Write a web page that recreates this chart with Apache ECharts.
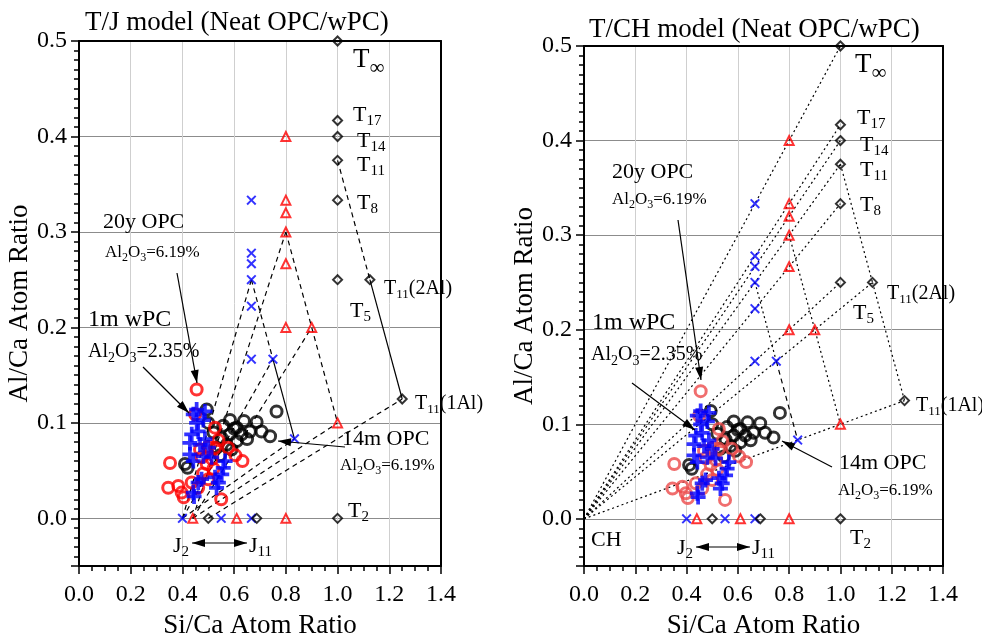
<!DOCTYPE html>
<html>
<head>
<meta charset="utf-8">
<script src="https://cdn.jsdelivr.net/npm/echarts@6/dist/echarts.min.js"></script>
<style>
html,body{margin:0;padding:0;background:#fff}
#main{width:982px;height:644px}
</style>
</head>
<body>
<div id="main"></div>
<script>
// measured points, Si/Ca (x) and Al/Ca (y)
const opc14mSi = [0.764, 0.584, 0.638, 0.687, 0.558, 0.61, 0.661, 0.706, 0.739, 0.629, 0.584, 0.552, 0.61, 0.571, 0.532, 0.494, 0.41, 0.42, 0.65, 0.59, 0.545, 0.52, 0.5, 0.6];
const opc14mAl = [0.112, 0.103, 0.102, 0.101, 0.097, 0.095, 0.091, 0.091, 0.086, 0.088, 0.088, 0.084, 0.081, 0.077, 0.074, 0.114, 0.057, 0.053, 0.083, 0.072, 0.066, 0.09, 0.1, 0.094];
const opc20ySi = [0.455, 0.449, 0.526, 0.539, 0.577, 0.605, 0.632, 0.526, 0.5, 0.468, 0.474, 0.494, 0.52, 0.5, 0.461, 0.436, 0.352, 0.345, 0.384, 0.397, 0.405, 0.55, 0.515, 0.48];
const opc20yAl = [0.135, 0.109, 0.095, 0.082, 0.074, 0.066, 0.06, 0.074, 0.075, 0.072, 0.064, 0.057, 0.052, 0.041, 0.032, 0.0375, 0.058, 0.032, 0.034, 0.027, 0.022, 0.02, 0.062, 0.047];
const wpc1mSi = [0.455, 0.487, 0.442, 0.481, 0.461, 0.436, 0.487, 0.429, 0.468, 0.5, 0.429, 0.481, 0.513, 0.442, 0.565, 0.558, 0.552, 0.474, 0.461, 0.539, 0.532, 0.442, 0.445, 0.526, 0.455];
const wpc1mAl = [0.114, 0.112, 0.109, 0.103, 0.091, 0.088, 0.083, 0.079, 0.077, 0.074, 0.067, 0.065, 0.064, 0.06, 0.06, 0.053, 0.046, 0.041, 0.0375, 0.0375, 0.032, 0.027, 0.023, 0.043, 0.1];

// model compositions
const tSi = [1.0, 1.0, 1.0, 1.0, 1.0, 1.125, 1.0, 1.25, 1.0, 0.5, 0.6875];
const tAl = [0.5, 0.4167, 0.4, 0.375, 0.3333, 0.25, 0.25, 0.125, 0, 0, 0];
const redMixSi = [0.8, 0.8, 0.8, 0.8, 0.8, 0.8, 0.9, 1.0, 0.44, 0.61, 0.8];
const redMixAl = [0.4, 0.3333, 0.32, 0.3, 0.2667, 0.2, 0.2, 0.1, 0, 0, 0];
const blueMixSi = [0.6667, 0.6667, 0.6667, 0.6667, 0.6667, 0.6667, 0.75, 0.8333, 0.4, 0.55, 0.6667];
const blueMixAl = [0.3333, 0.2778, 0.2667, 0.25, 0.2222, 0.1667, 0.1667, 0.0833, 0, 0, 0];

// tie lines
const tjDashed = [
  [[0.4, 0], [0.6667, 0.25]], [[0.4, 0], [0.75, 0.1667]], [[0.4, 0], [0.8333, 0.0833]],
  [[0.44, 0], [0.8, 0.3]], [[0.44, 0], [0.9, 0.2]], [[0.44, 0], [1.0, 0.1]],
  [[0.5, 0], [1.25, 0.125]],
  [[0.6667, 0.25], [0.75, 0.1667]], [[0.8, 0.3], [1.0, 0.1]], [[1.0, 0.375], [1.125, 0.25]]
];
const tjSolid = [[[0.75, 0.1667], [0.8333, 0.0833]], [[1.125, 0.25], [1.25, 0.125]]];
const tchDotted = [
  [[0, 0], [1.0, 0.5]], [[0, 0], [1.0, 0.4167]], [[0, 0], [1.0, 0.4]], [[0, 0], [1.0, 0.375]],
  [[0, 0], [1.0, 0.3333]], [[0, 0], [1.0, 0.25]], [[0, 0], [1.125, 0.25]], [[0, 0], [1.25, 0.125]],
  [[1.0, 0.375], [1.125, 0.25]], [[1.125, 0.25], [1.25, 0.125]],
  [[0.8, 0.3], [1.0, 0.1]], [[0.6667, 0.25], [0.75, 0.1667]]
];
const tchDashed = [[[0.75, 0.1667], [0.8333, 0.0833]]];

const FF = 'Liberation Serif';
const xTicks = ['0.0', '0.2', '0.4', '0.6', '0.8', '1.0', '1.2', '1.4'];

const chart = echarts.init(document.getElementById('main'));

function pts(xs, ys) { return xs.map((x, i) => [x, ys[i]]); }

function xAx(g) {
  return {
    type: 'value', gridIndex: g, min: 0, max: 1.4, interval: 0.2,
    name: 'Si/Ca Atom Ratio', nameLocation: 'middle', nameGap: 42,
    nameTextStyle: {fontFamily: FF, fontSize: 27, color: '#000'},
    axisLine: {onZero: false, lineStyle: {color: '#000', width: 2}},
    axisTick: {length: 8, lineStyle: {color: '#000', width: 1.5}},
    minorTick: {show: true, splitNumber: 4, length: 5, lineStyle: {color: '#000', width: 1.5}},
    axisLabel: {fontFamily: FF, fontSize: 24, color: '#000', margin: 17,
      formatter: v => xTicks[Math.round(v / 0.2)]},
    splitLine: {show: true, lineStyle: {color: '#cfcfcf', width: 1}}
  };
}
function yAx(g) {
  return {
    type: 'value', gridIndex: g, min: -0.05, max: 0.5, splitNumber: 5,
    name: 'Al/Ca Atom Ratio', nameLocation: 'middle', nameGap: 44,
    nameTextStyle: {fontFamily: FF, fontSize: 27, color: '#000'},
    axisLine: {onZero: false, lineStyle: {color: '#000', width: 2}},
    axisTick: {length: 8, lineStyle: {color: '#000', width: 1.5}},
    minorTick: {show: true, splitNumber: 10, length: 5, lineStyle: {color: '#000', width: 1.5}},
    axisLabel: {fontFamily: FF, fontSize: 24, color: '#000', margin: 12, showMinLabel: false,
      formatter: v => v.toFixed(1)},
    splitLine: {show: true, lineStyle: {color: '#8c8c8c', width: 1}}
  };
}
function frameX(g) {
  return {type: 'value', gridIndex: g, position: 'top', min: 0, max: 1.4,
    axisLine: {onZero: false, lineStyle: {color: '#000', width: 2}},
    axisTick: {show: false}, axisLabel: {show: false}, splitLine: {show: false}};
}
function frameY(g) {
  return {type: 'value', gridIndex: g, position: 'right', min: -0.05, max: 0.5,
    axisLine: {onZero: false, lineStyle: {color: '#000', width: 2}},
    axisTick: {show: false}, axisLabel: {show: false}, splitLine: {show: false}};
}

const PLUS = 'path://M4.5,0H7.5V4.5H12V7.5H7.5V12H4.5V7.5H0V4.5H4.5Z';
const CROSS = 'path://M0,1.4L1.4,0L5,3.6L8.6,0L10,1.4L6.4,5L10,8.6L8.6,10L5,6.4L1.4,10L0,8.6L3.6,5Z';
const NONE = 'rgba(0,0,0,0)';

function lineSeries(g, segs, type, width, z) {
  return {type: 'lines', coordinateSystem: 'cartesian2d', xAxisIndex: g, yAxisIndex: g,
    polyline: false, silent: true, z: z,
    lineStyle: {color: '#000', width: width, type: type, opacity: 1},
    data: segs.map(s => ({coords: s}))};
}
function panelSeries(g, red) {
  return [
    lineSeries(g, g === 0 ? tjDashed : tchDotted, g === 0 ? [5, 4] : [2, 3], 1.2, 2),
    lineSeries(g, g === 0 ? tjSolid : tchDashed, g === 0 ? 'solid' : [5, 4], 1.2, 2),
    {type: 'scatter', xAxisIndex: g, yAxisIndex: g, silent: true, z: 3, data: pts(opc14mSi, opc14mAl),
      symbol: 'circle', symbolSize: 11, itemStyle: {color: NONE, borderColor: '#000', borderWidth: 3}},
    {type: 'scatter', xAxisIndex: g, yAxisIndex: g, silent: true, z: 4, data: pts(opc20ySi, opc20yAl),
      symbol: 'circle', symbolSize: 11, itemStyle: {color: NONE, borderColor: red, borderWidth: 3}},
    {type: 'scatter', xAxisIndex: g, yAxisIndex: g, silent: true, z: 5, data: pts(wpc1mSi, wpc1mAl),
      symbol: PLUS, symbolSize: 15, itemStyle: {color: '#0000ff'}},
    {type: 'scatter', xAxisIndex: g, yAxisIndex: g, silent: true, z: 6, data: pts(blueMixSi, blueMixAl),
      symbol: CROSS, symbolSize: 10, itemStyle: {color: '#0000ff'}},
    {type: 'scatter', xAxisIndex: g, yAxisIndex: g, silent: true, z: 6, data: pts(redMixSi, redMixAl),
      symbol: 'triangle', symbolSize: 9, itemStyle: {color: NONE, borderColor: '#ff0000', borderWidth: 2}},
    {type: 'scatter', xAxisIndex: g, yAxisIndex: g, silent: true, z: 6, data: pts(tSi, tAl),
      symbol: 'diamond', symbolSize: 9, itemStyle: {color: NONE, borderColor: '#000', borderWidth: 2}}
  ];
}

// text helpers
function rtext(x, y, str, F, S) {
  return {type: 'text', x: x, y: y, z: 100, silent: true, style: {
    text: str, align: 'left', verticalAlign: 'top',
    rich: {
      m: {fontFamily: FF, fontSize: F, lineHeight: F, verticalAlign: 'top', fill: '#000'},
      s: {fontFamily: FF, fontSize: S, lineHeight: S, verticalAlign: 'top', fill: '#000',
        padding: [Math.round(F * 0.45), 0, 0, 0]}
    }}};
}
function tLab(x, y, sub, tail) {
  if (tail) return rtext(x, y, '{m|T}{s|' + sub + '}{m|' + tail + '}', 20, 13);
  return rtext(x, y, '{m|T}{s|' + sub + '}', 22, 15);
}
function oxide(x, y, val, F, S) {
  return rtext(x, y, '{m|Al}{s|2}{m|O}{s|3}{m|=' + val + '}', F, S);
}
function plain(x, y, str, F) {
  return {type: 'text', x: x, y: y, z: 100, silent: true,
    style: {text: str, fontFamily: FF, fontSize: F, fill: '#000', align: 'left', verticalAlign: 'top'}};
}
function head(x1, y1, x2, y2) {
  const a = Math.atan2(y2 - y1, x2 - x1), len = 13, hw = 4;
  const bx = x2 - len * Math.cos(a), by = y2 - len * Math.sin(a);
  const px = -Math.sin(a) * hw, py = Math.cos(a) * hw;
  return {type: 'polygon', z: 100, silent: true,
    shape: {points: [[x2, y2], [bx + px, by + py], [bx - px, by - py]]}, style: {fill: '#000'}};
}
function arrow(x1, y1, x2, y2, both) {
  const out = [{type: 'line', z: 100, silent: true, shape: {x1: x1, y1: y1, x2: x2, y2: y2},
    style: {stroke: '#000', lineWidth: 1.2}}, head(x1, y1, x2, y2)];
  if (both) out.push(head(x2, y2, x1, y1));
  return out;
}

const graphics = [
  // left panel labels
  rtext(353, 46, '{m|T}{s|∞}', 27, 21),
  tLab(353, 104, '17'), tLab(357, 130, '14'), tLab(357, 154, '11'), tLab(357, 192, '8'),
  tLab(384, 279, '11', '(2Al)'), tLab(350, 300, '5'), tLab(415, 394, '11', '(1Al)'), tLab(348, 500, '2'),
  plain(103, 211, '20y OPC', 22), oxide(105, 244, '6.19%', 17, 12),
  plain(88, 308, '1m wPC', 24), oxide(88, 342, '2.35%', 20, 14),
  plain(342, 428, '14m OPC', 22), oxide(340, 457, '6.19%', 17, 12),
  rtext(173, 535, '{m|J}{s|2}', 22, 15), rtext(249, 535, '{m|J}{s|11}', 22, 15),
  ...arrow(177, 273, 197, 383), ...arrow(143, 367, 189, 413), ...arrow(345, 447, 278, 441),
  ...arrow(192, 543, 247, 543, true),
  // right panel labels
  rtext(855, 51, '{m|T}{s|∞}', 27, 21),
  tLab(857, 107, '17'), tLab(860, 134, '14'), tLab(860, 159, '11'), tLab(860, 194, '8'),
  tLab(887, 284, '11', '(2Al)'), tLab(853, 302, '5'), tLab(916, 396, '11', '(1Al)'), tLab(850, 527, '2'),
  plain(612, 161, '20y OPC', 22), oxide(612, 191, '6.19%', 17, 12),
  plain(592, 311, '1m wPC', 24), oxide(591, 345, '2.35%', 20, 14),
  plain(839, 452, '14m OPC', 22), oxide(838, 482, '6.19%', 17, 12),
  plain(591, 529, 'CH', 22),
  rtext(677, 537, '{m|J}{s|2}', 22, 15), rtext(752, 537, '{m|J}{s|11}', 22, 15),
  ...arrow(678, 220, 701, 380), ...arrow(632, 383, 695, 430), ...arrow(832, 467, 782, 441),
  ...arrow(696, 547, 750, 547, true)
];

chart.setOption({
  backgroundColor: '#fff',
  animation: false,
  title: [
    {text: 'T/J model (Neat OPC/wPC)', left: 80, top: 4,
      textStyle: {fontFamily: FF, fontSize: 27, fontWeight: 'normal', color: '#000'}},
    {text: 'T/CH model (Neat OPC/wPC)', left: 584, top: 11,
      textStyle: {fontFamily: FF, fontSize: 27, fontWeight: 'normal', color: '#000'}}
  ],
  grid: [
    {left: 79, top: 41, width: 362, height: 528},
    {left: 584, top: 46, width: 359, height: 523}
  ],
  xAxis: [xAx(0), xAx(1), frameX(0), frameX(1)],
  yAxis: [yAx(0), yAx(1), frameY(0), frameY(1)],
  series: [...panelSeries(0, '#ff0000'), ...panelSeries(1, '#ec4a4a')],
  graphic: graphics
});
</script>
</body>
</html>
